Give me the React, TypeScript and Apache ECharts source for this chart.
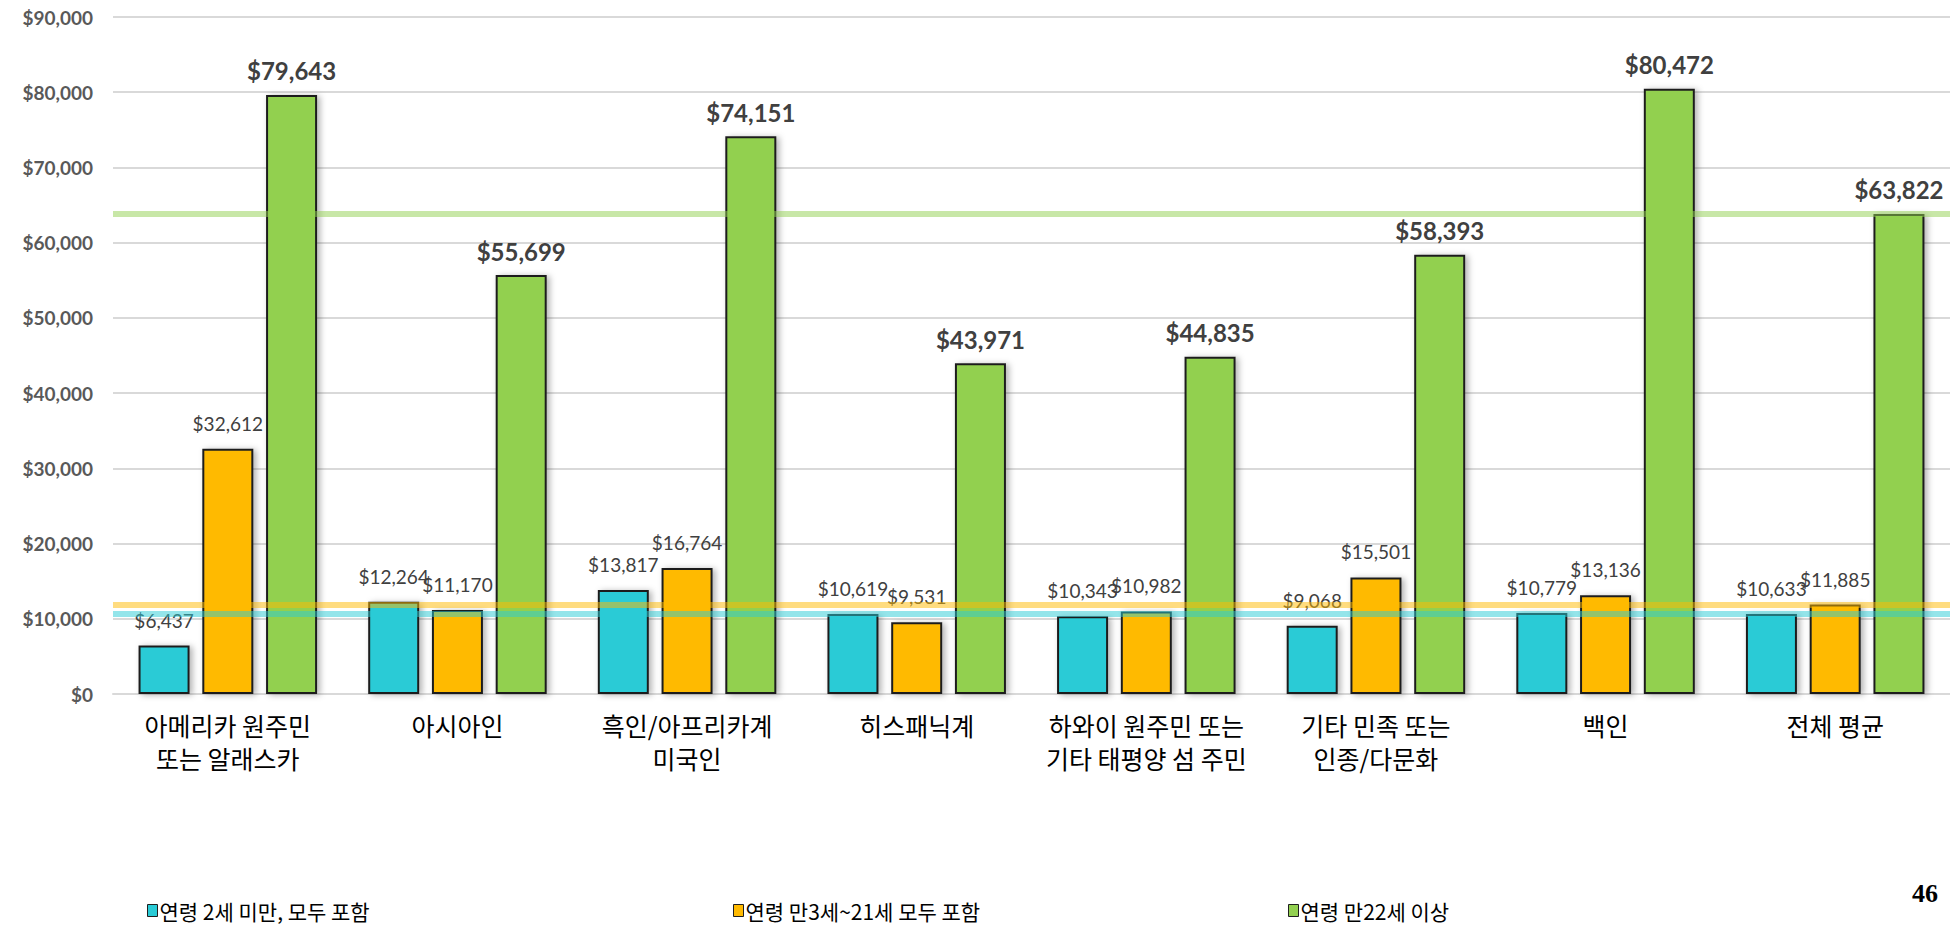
import React, { useEffect, useRef } from "react";
import * as echarts from "echarts";

const categories = [
  "아메리카 원주민\n또는 알래스카",
  "아시아인",
  "흑인/아프리카계\n미국인",
  "히스패닉계",
  "하와이 원주민 또는\n기타 태평양 섬 주민",
  "기타 민족 또는\n인종/다문화",
  "백인",
  "전체 평균",
];
const seriesNames = ["연령 2세 미만, 모두 포함", "연령 만3세~21세 모두 포함", "연령 만22세 이상"];
const under2 = [6437, 12264, 13817, 10619, 10343, 9068, 10779, 10633];
const age3to21 = [32612, 11170, 16764, 9531, 10982, 15501, 13136, 11885];
const age22plus = [79643, 55699, 74151, 43971, 44835, 58393, 80472, 63822];
const yMin = 0;
const yMax = 90000;
const yStep = 10000;
const pageNumber = "46";

const colors = ["#29CBD6", "#FFBA00", "#92D050"];

const money = (v: number) => "$" + Math.round(v).toLocaleString("en-US");

export default function App() {
  const ref = useRef<HTMLDivElement>(null);
  useEffect(() => {
    if (!ref.current) return;
    const chart = echarts.init(ref.current, undefined, { renderer: "svg" });
    const all = [under2, age3to21, age22plus];
    const series = all.map((arr, i) => ({
      name: seriesNames[i],
      type: "bar",
      data: arr,
      barWidth: 51,
      barGap: "25%",
      itemStyle: {
        color: colors[i],
        borderColor: "#1f1f1f",
        borderWidth: 2,
        shadowColor: "rgba(0,0,0,0.3)",
        shadowBlur: 6,
        shadowOffsetX: 3,
        shadowOffsetY: 1,
      },
      label: {
        show: true,
        position: "top",
        distance: i === 2 ? 12 : 16,
        formatter: (p: any) => money(p.value),
        fontFamily: "Lato",
        fontSize: i === 2 ? 24 : 19,
        fontWeight: i === 2 ? "bold" : "normal",
        color: "#404040",
      },
      emphasis: { disabled: true },
      markLine: {
        silent: true,
        symbol: "none",
        label: { show: false },
        emphasis: { disabled: true },
        lineStyle: { color: colors[i], width: 6, type: "solid", opacity: 0.5 },
        data: [{ yAxis: arr[arr.length - 1] }],
      },
    }));
    const legendLefts = [147, 733, 1288];
    chart.setOption({
      animation: false,
      grid: { left: 113, top: 17, width: 1840, height: 677, containLabel: false },
      xAxis: {
        type: "category",
        data: categories,
        axisLine: { lineStyle: { color: "#D9D9D9", width: 2 } },
        axisTick: { show: false },
        axisLabel: {
          interval: 0,
          margin: 14,
          fontFamily: "Noto Sans CJK KR",
          fontSize: 25,
          lineHeight: 33,
          color: "#000",
        },
      },
      yAxis: {
        type: "value",
        min: yMin,
        max: yMax,
        interval: yStep,
        axisLine: { show: false },
        axisTick: { show: false },
        splitLine: { lineStyle: { color: "#D9D9D9", width: 2 } },
        axisLabel: {
          margin: 20,
          formatter: (v: number) => money(v),
          fontFamily: "Lato",
          fontWeight: "bold",
          fontSize: 19,
          color: "#595959",
        },
      },
      legend: seriesNames.map((n, i) => ({
        data: [n],
        left: legendLefts[i],
        top: 900,
        padding: 0,
        icon: "rect",
        itemWidth: 10,
        itemHeight: 12,
        itemStyle: { borderColor: "#1f1f1f", borderWidth: 1, shadowBlur: 0, shadowOffsetX: 0, shadowOffsetY: 0 },
        textStyle: { fontFamily: "Noto Sans CJK KR", fontSize: 21, color: "#000", padding: [0, 0, 0, -3] },
        selectedMode: false,
      })),
      graphic: [
        {
          type: "text",
          left: 1912,
          top: 880,
          style: { text: pageNumber, font: "bold 26px 'Liberation Serif'", fill: "#000" },
        },
      ],
      series,
    });
    return () => chart.dispose();
  }, []);
  return <div ref={ref} style={{ position: "absolute", left: 0, top: 0, width: 1950, height: 937, background: "#fff" }} />;
}
